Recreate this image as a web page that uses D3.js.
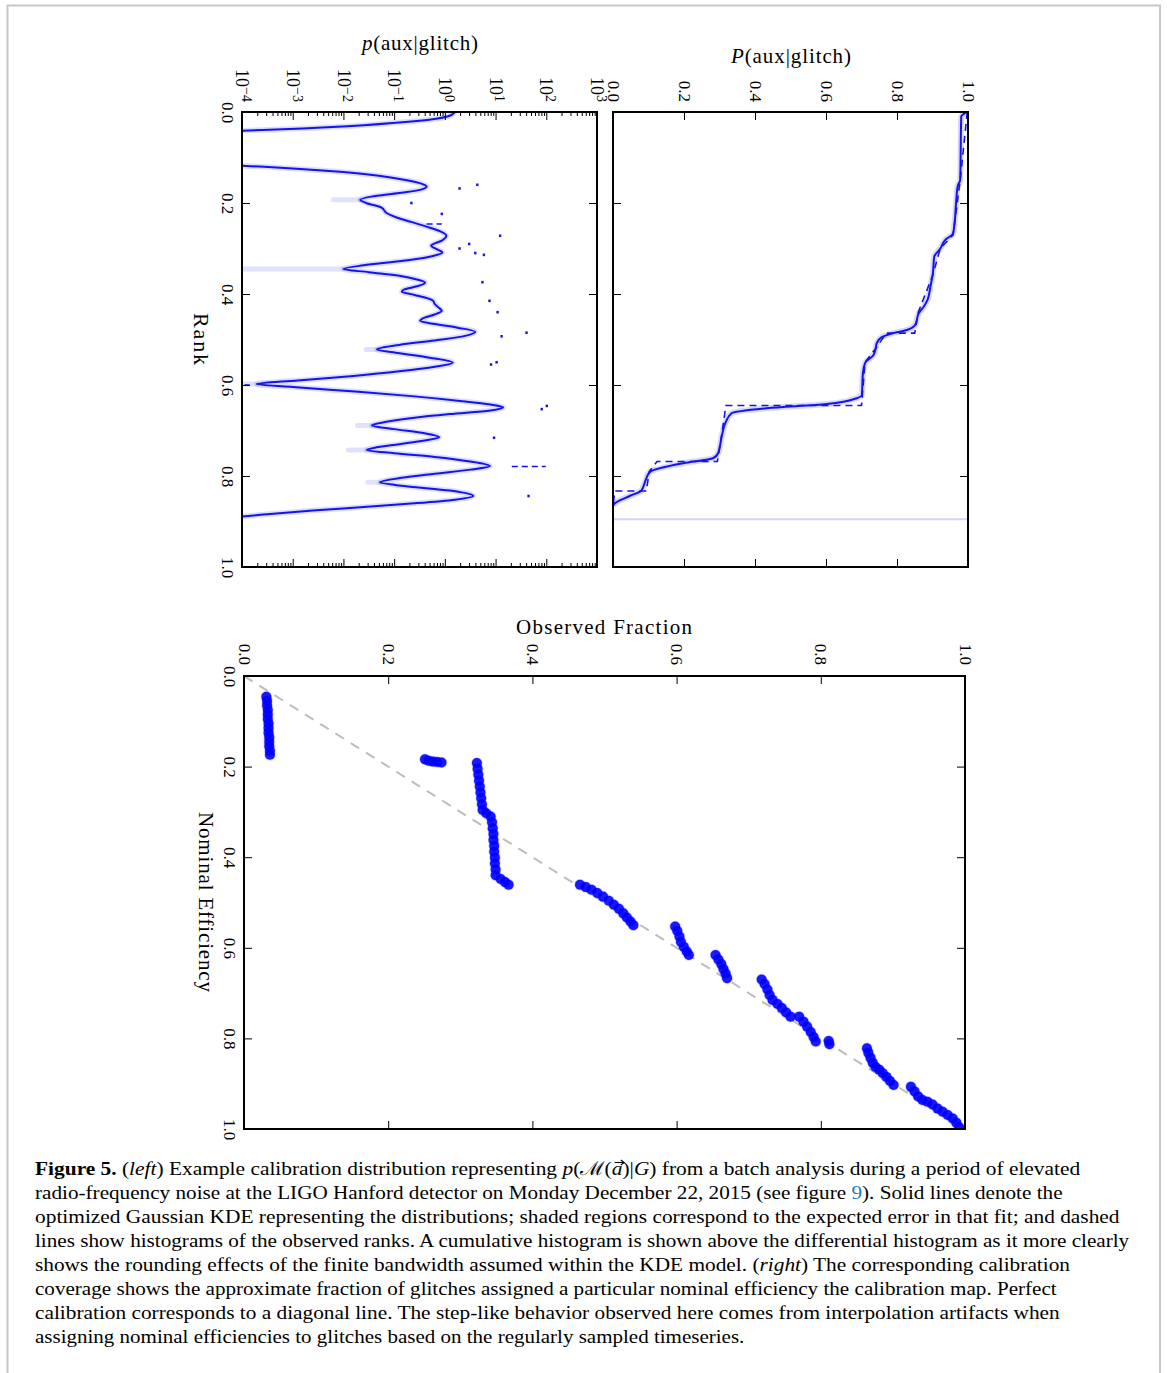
<!DOCTYPE html>
<html>
<head>
<meta charset="utf-8">
<script src="https://cdn.jsdelivr.net/npm/d3@7"></script>
<style>
  body { margin: 0; background: #fff; }
  text { font-family: "Liberation Serif", "DejaVu Serif", serif; fill: #000; }
</style>
</head>
<body>
<script>
// ---------- data ----------

// left panel: KDE of p(aux|glitch) along rank, values kept as log10(p)
var kdeRank = [0.000, 0.010, 0.020, 0.029, 0.036, 0.041, 0.046, 0.110, 0.118, 0.124, 0.132, 0.140, 0.150, 0.158, 0.164,
  0.170, 0.178, 0.186, 0.193, 0.200, 0.210, 0.222, 0.232, 0.242, 0.252, 0.262, 0.272, 0.282, 0.294, 0.302, 0.309,
  0.318, 0.328, 0.337, 0.345, 0.352, 0.360, 0.368, 0.375, 0.383, 0.390, 0.395, 0.402, 0.409, 0.415, 0.422, 0.430,
  0.437, 0.445, 0.452, 0.459, 0.466, 0.474, 0.483, 0.492, 0.502, 0.512, 0.522, 0.530, 0.540, 0.551, 0.560, 0.570,
  0.580, 0.590, 0.598, 0.606, 0.615, 0.625, 0.635, 0.643, 0.649, 0.656, 0.664, 0.672, 0.681, 0.689, 0.697, 0.706,
  0.715, 0.722, 0.730, 0.737, 0.743, 0.750, 0.758, 0.768, 0.778, 0.786, 0.795, 0.804, 0.814, 0.822, 0.832, 0.844,
  0.852, 0.860, 0.868, 0.876, 0.884, 0.889, 0.895];
var kdeLogP = [0.20, 0.05, -0.55, -1.60, -2.80, -4.00, -5.20, -5.20, -4.00, -3.00, -2.00, -1.30, -0.75, -0.45, -0.36,
  -0.45, -0.90, -1.45, -1.67, -1.55, -1.25, -1.15, -0.95, -0.65, -0.36, -0.10, 0.03, -0.05, -0.27, -0.15, -0.05,
  -0.30, -0.90, -1.60, -2.00, -1.50, -0.90, -0.55, -0.39, -0.55, -0.80, -0.85, -0.60, -0.35, -0.23, -0.20, -0.12,
  -0.06, -0.20, -0.40, -0.49, -0.20, 0.25, 0.60, 0.40, -0.20, -0.90, -1.34, -0.90, -0.30, 0.155, -0.20, -0.90,
  -1.80, -2.90, -3.71, -2.80, -1.70, -0.60, 0.30, 0.90, 1.15, 0.90, 0.10, -0.60, -1.15, -1.44, -1.00, -0.40,
  -0.11, -0.40, -0.90, -1.35, -1.54, -1.00, -0.20, 0.50, 0.89, 0.50, -0.20, -0.85, -1.28, -0.80, 0.10, 0.56,
  0.20, -0.60, -1.60, -2.60, -3.50, -4.00, -5.00];

// where the shaded error band pokes out beyond the dips
var dipRank = [0.193, 0.345, 0.522, 0.598, 0.689, 0.743, 0.814];
var dipCurveLogP = [-1.67, -2.00, -1.34, -3.71, -1.44, -1.54, -1.28];
var dipBandLogP = [-2.20, -4.60, -1.55, -4.60, -1.72, -1.90, -1.52];

// differential histogram (dashed) – only the short pieces that stay on scale
var histRank = [0.160, 0.168, 0.200, 0.224, 0.272, 0.290, 0.300, 0.310, 0.314, 0.374, 0.415, 0.440, 0.485, 0.493,
  0.550, 0.555, 0.646, 0.653, 0.716, 0.844];
var histLogP = [0.64, 0.29, -0.66, -0.06, 1.09, 0.48, 0.29, 0.60, 0.77, 0.74, 0.88, 1.04, 1.61, 1.12,
  1.02, 0.91, 2.01, 1.91, 0.97, 1.65];
var histSegRank = [0.246, 0.600, 0.779];
var histSegLo = [-0.36, -3.95, 1.32];
var histSegHi = [-0.06, -3.85, 1.99];

// right panel: cumulative P(aux|glitch)
var cumRank = [0.000, 0.010, 0.149, 0.163, 0.193, 0.245, 0.267, 0.281, 0.300, 0.318, 0.355, 0.384, 0.413, 0.426,
  0.443, 0.468, 0.479, 0.486, 0.495, 0.508, 0.523, 0.534, 0.552, 0.574, 0.622, 0.629, 0.642, 0.651, 0.662, 0.681,
  0.714, 0.750, 0.761, 0.772, 0.791, 0.809, 0.832, 0.844, 0.860, 0.866];
var cumP = [0.997, 0.981, 0.978, 0.971, 0.967, 0.962, 0.958, 0.936, 0.922, 0.905, 0.901, 0.894, 0.886, 0.877,
  0.861, 0.851, 0.828, 0.790, 0.757, 0.743, 0.739, 0.734, 0.710, 0.704, 0.701, 0.687, 0.602, 0.433, 0.334, 0.318,
  0.306, 0.296, 0.282, 0.198, 0.104, 0.092, 0.080, 0.047, 0.005, 0.000];
var cumHistRank = [0.000, 0.150, 0.270, 0.300, 0.360, 0.440, 0.486, 0.486, 0.520, 0.550, 0.645, 0.645, 0.700, 0.768,
  0.768, 0.790, 0.833, 0.833, 0.866];
var cumHistP = [0.998, 0.978, 0.958, 0.922, 0.900, 0.860, 0.850, 0.770, 0.740, 0.710, 0.700, 0.318, 0.308, 0.294,
  0.124, 0.102, 0.094, 0.005, 0.000];
var cumBandRank = 0.895;

// bottom panel: calibration coverage
var obsFrac = [0.031, 0.032, 0.032, 0.033, 0.033, 0.033, 0.034, 0.034, 0.034, 0.035, 0.035, 0.035, 0.036, 0.036,
  0.251, 0.256, 0.262, 0.268, 0.274,
  0.323, 0.324, 0.325, 0.326, 0.327, 0.328, 0.329, 0.330, 0.331, 0.336, 0.342, 0.344, 0.345, 0.346, 0.346, 0.347,
  0.347, 0.348, 0.348, 0.349, 0.349, 0.356, 0.362, 0.367,
  0.466, 0.474, 0.482, 0.490, 0.498, 0.506, 0.513, 0.520, 0.526, 0.531, 0.536, 0.540,
  0.598, 0.601, 0.604, 0.606, 0.610, 0.614, 0.617,
  0.654, 0.658, 0.662, 0.665, 0.668, 0.670,
  0.718, 0.722, 0.726, 0.729, 0.733, 0.740, 0.746, 0.752, 0.758,
  0.770, 0.776, 0.781, 0.786, 0.790, 0.793,
  0.811, 0.812,
  0.864, 0.866, 0.869, 0.872, 0.876, 0.881, 0.886, 0.891, 0.896, 0.901,
  0.925, 0.930, 0.935, 0.941, 0.948, 0.955, 0.962, 0.969, 0.976, 0.983, 0.988, 0.992];
var nomEff = [0.046, 0.055, 0.065, 0.075, 0.085, 0.095, 0.105, 0.115, 0.125, 0.135, 0.145, 0.155, 0.165, 0.174,
  0.184, 0.187, 0.189, 0.190, 0.191,
  0.192, 0.205, 0.218, 0.231, 0.244, 0.257, 0.270, 0.283, 0.296, 0.303, 0.310, 0.323, 0.336, 0.349, 0.362, 0.375,
  0.388, 0.401, 0.414, 0.427, 0.440, 0.448, 0.455, 0.461,
  0.461, 0.466, 0.472, 0.479, 0.487, 0.496, 0.505, 0.514, 0.524, 0.533, 0.542, 0.550,
  0.553, 0.563, 0.575, 0.587, 0.598, 0.608, 0.616,
  0.616, 0.626, 0.636, 0.647, 0.657, 0.667,
  0.670, 0.680, 0.692, 0.704, 0.715, 0.724, 0.733, 0.743, 0.752,
  0.752, 0.763, 0.774, 0.786, 0.797, 0.807,
  0.806, 0.813,
  0.822, 0.832, 0.843, 0.854, 0.863, 0.869, 0.877, 0.885, 0.894, 0.903,
  0.907, 0.917, 0.928, 0.936, 0.940, 0.946, 0.955, 0.962, 0.969, 0.977, 0.986, 0.996];

var linearTicks = [0, 0.2, 0.4, 0.6, 0.8, 1.0];

// caption, one entry per printed line: [text, style]
var captionLines = [
  [["Figure 5.", "b"], [" (", ""], ["left", "i"], [") Example calibration distribution representing ", ""], ["p", "i"],
   ["(\u2133(", ""], ["a", "vec"], [")|", ""], ["G", "i"], [") from a batch analysis during a period of elevated", ""]],
  [["radio-frequency noise at the LIGO Hanford detector on Monday December 22, 2015 (see figure ", ""], ["9", "link"],
   ["). Solid lines denote the", ""]],
  [["optimized Gaussian KDE representing the distributions; shaded regions correspond to the expected error in that fit; and dashed", ""]],
  [["lines show histograms of the observed ranks. A cumulative histogram is shown above the differential histogram as it more clearly", ""]],
  [["shows the rounding effects of the finite bandwidth assumed within the KDE model. (", ""], ["right", "i"],
   [") The corresponding calibration", ""]],
  [["coverage shows the approximate fraction of glitches assigned a particular nominal efficiency the calibration map. Perfect", ""]],
  [["calibration corresponds to a diagonal line. The step-like behavior observed here comes from interpolation artifacts when", ""]],
  [["assigning nominal efficiencies to glitches based on the regularly sampled timeseries.", ""]]
];
var captionEnds = [1081, 1063, 1120, 1130, 1071, 1057, 1060, 745];

// ---------- drawing ----------
var blue = "#1414e6";

var svg = d3.select("body").append("svg")
    .attr("width", 1167)
    .attr("height", 1373);

// page frame
svg.append("path")
    .attr("d", "M7.5,1373V5.5H1160V1373")
    .attr("fill", "none")
    .attr("stroke", "#c8c8c8")
    .attr("stroke-width", 2);

var rankY = d3.scaleLinear().domain([0, 1]).range([112, 567]),
    pX = d3.scaleLog().domain([1e-4, 1e3]).range([242, 597]),
    cumX = d3.scaleLinear().domain([0, 1]).range([613, 968]),
    obsX = d3.scaleLinear().domain([0, 1]).range([244, 965]),
    nomY = d3.scaleLinear().domain([0, 1]).range([676, 1129]);

function isDecade(d) { return Math.abs(Math.log10(d) - Math.round(Math.log10(d))) < 1e-6; }

function cleanAxis(g) {
  g.attr("font-family", null).attr("font-size", 17);
  g.select(".domain").remove();
  g.selectAll(".tick line").attr("stroke", "#000").attr("stroke-width", 1);
}

// labels that sit above the box, read top to bottom
function topLabels(g, gap) {
  g.selectAll(".tick text")
      .attr("transform", "rotate(90)")
      .attr("x", -gap).attr("y", 0)
      .attr("dy", "0.35em")
      .attr("text-anchor", "end");
}
// labels left of the box, rotated, centred on tick
function leftLabels(g, off) {
  g.selectAll(".tick text")
      .attr("transform", "translate(" + (-off) + ",0) rotate(90)")
      .attr("x", 0).attr("y", 0)
      .attr("dy", "0.35em")
      .attr("text-anchor", "middle");
}

function clip(id, x0, y0, x1, y1) {
  svg.append("clipPath").attr("id", id)
    .append("rect").attr("x", x0).attr("y", y0).attr("width", x1 - x0).attr("height", y1 - y0);
}

// ===== left panel =====
clip("clipL", 242, 112, 597, 567);
var left = svg.append("g").attr("clip-path", "url(#clipL)");

var kde = kdeRank.map(function(r, i) { return {r: r, p: Math.pow(10, kdeLogP[i])}; });
var kdeLine = d3.line()
    .curve(d3.curveMonotoneY)
    .x(function(d) { return pX(d.p); })
    .y(function(d) { return rankY(d.r); });

// shaded band
left.append("path")
    .attr("d", kdeLine(kde))
    .attr("fill", "none")
    .attr("stroke", "rgba(60,60,255,0.18)")
    .attr("stroke-width", 5.5);
left.selectAll(".dip")
    .data(dipRank)
    .enter().append("line")
      .attr("class", "dip")
      .attr("x1", function(d, i) { return pX(Math.pow(10, dipCurveLogP[i])); })
      .attr("x2", function(d, i) { return pX(Math.pow(10, dipBandLogP[i])); })
      .attr("y1", function(d) { return rankY(d); })
      .attr("y2", function(d) { return rankY(d); })
      .attr("stroke", "rgba(60,60,255,0.16)")
      .attr("stroke-width", 5)
      .attr("stroke-linecap", "round");

left.append("path")
    .attr("d", kdeLine(kde))
    .attr("fill", "none")
    .attr("stroke", blue)
    .attr("stroke-width", 2);

// histogram fragments
left.selectAll(".hdot")
    .data(histRank)
    .enter().append("rect")
      .attr("class", "hdot")
      .attr("x", function(d, i) { return pX(Math.pow(10, histLogP[i])) - 1.2; })
      .attr("y", function(d) { return rankY(d) - 1.3; })
      .attr("width", 2.4)
      .attr("height", 2.6)
      .attr("fill", blue);
left.selectAll(".hseg")
    .data(histSegRank)
    .enter().append("line")
      .attr("class", "hseg")
      .attr("x1", function(d, i) { return pX(Math.pow(10, histSegLo[i])); })
      .attr("x2", function(d, i) { return pX(Math.pow(10, histSegHi[i])); })
      .attr("y1", function(d) { return rankY(d); })
      .attr("y2", function(d) { return rankY(d); })
      .attr("stroke", blue)
      .attr("stroke-width", 1.6)
      .attr("stroke-dasharray", "6,4");

svg.append("g")
    .attr("transform", "translate(0,112)")
    .call(d3.axisTop(pX).tickSizeInner(-8).tickSizeOuter(0)
      .tickFormat(function(d) { return isDecade(d) ? "10" : ""; }))
    .call(cleanAxis)
    .call(function(g) {
      g.selectAll(".tick line").attr("y2", function(d) { return isDecade(d) ? 8 : 4; });
      topLabels(g, 10);
      g.selectAll(".tick text").attr("font-size", 18);
      g.selectAll(".tick text").filter(function(d) { return isDecade(d); })
        .append("tspan")
          .attr("dy", "-0.4em")
          .attr("font-size", 14)
          .text(function(d) { var e = Math.round(Math.log10(d)); return e < 0 ? "\u2212" + (-e) : "" + e; });
    });
svg.append("g")
    .attr("transform", "translate(0,567)")
    .call(d3.axisBottom(pX).tickSizeInner(-8).tickSizeOuter(0).tickFormat(""))
    .call(cleanAxis)
    .call(function(g) {
      g.selectAll(".tick line").attr("y2", function(d) { return isDecade(d) ? -8 : -4; });
    });
svg.append("g")
    .attr("transform", "translate(242,0)")
    .call(d3.axisLeft(rankY).tickValues(linearTicks).tickSizeInner(-8).tickSizeOuter(0).tickFormat(d3.format(".1f")))
    .call(cleanAxis)
    .call(function(g) { leftLabels(g, 14); });
svg.append("g")
    .attr("transform", "translate(597,0)")
    .call(d3.axisRight(rankY).tickValues(linearTicks).tickSizeInner(-8).tickSizeOuter(0).tickFormat(""))
    .call(cleanAxis);

svg.append("rect")
    .attr("x", 242).attr("y", 112).attr("width", 355).attr("height", 455)
    .attr("fill", "none").attr("stroke", "#000").attr("stroke-width", 2);

var lt = svg.append("text").attr("x", 420).attr("y", 50)
    .attr("text-anchor", "middle").attr("font-size", 21).attr("textLength", 116);
lt.append("tspan").attr("font-style", "italic").text("p");
lt.append("tspan").text("(aux|glitch)");

svg.append("text")
    .attr("transform", "translate(202,339) rotate(90)")
    .attr("dy", "0.35em")
    .attr("text-anchor", "middle")
    .attr("font-size", 22)
    .attr("textLength", 52)
    .text("Rank");

// ===== right panel =====
clip("clipR", 613, 112, 968, 567);
var right = svg.append("g").attr("clip-path", "url(#clipR)");

var cum = cumRank.map(function(r, i) { return {r: r, P: cumP[i]}; });
var cumLine = d3.line()
    .curve(d3.curveMonotoneY)
    .x(function(d) { return cumX(d.P); })
    .y(function(d) { return rankY(d.r); });

right.append("line")
    .attr("x1", cumX(0)).attr("x2", cumX(1))
    .attr("y1", rankY(cumBandRank)).attr("y2", rankY(cumBandRank))
    .attr("stroke", "rgba(60,60,255,0.22)")
    .attr("stroke-width", 2);
right.append("path")
    .attr("d", cumLine(cum))
    .attr("fill", "none")
    .attr("stroke", "rgba(60,60,255,0.2)")
    .attr("stroke-width", 6);
right.append("path")
    .attr("d", d3.line()
      .x(function(d, i) { return cumX(cumHistP[i]); })
      .y(function(d) { return rankY(d); })(cumHistRank))
    .attr("fill", "none")
    .attr("stroke", blue)
    .attr("stroke-width", 1.6)
    .attr("stroke-dasharray", "7,5");
right.append("path")
    .attr("d", cumLine(cum))
    .attr("fill", "none")
    .attr("stroke", blue)
    .attr("stroke-width", 2);

svg.append("g")
    .attr("transform", "translate(0,112)")
    .call(d3.axisTop(cumX).tickValues(linearTicks).tickSizeInner(-8).tickSizeOuter(0).tickFormat(d3.format(".1f")))
    .call(cleanAxis)
    .call(function(g) { topLabels(g, 10); });
svg.append("g")
    .attr("transform", "translate(0,567)")
    .call(d3.axisBottom(cumX).tickValues(linearTicks).tickSizeInner(-8).tickSizeOuter(0).tickFormat(""))
    .call(cleanAxis);
svg.append("g")
    .attr("transform", "translate(613,0)")
    .call(d3.axisLeft(rankY).tickValues(linearTicks).tickSizeInner(-8).tickSizeOuter(0).tickFormat(""))
    .call(cleanAxis);
svg.append("g")
    .attr("transform", "translate(968,0)")
    .call(d3.axisRight(rankY).tickValues(linearTicks).tickSizeInner(-8).tickSizeOuter(0).tickFormat(""))
    .call(cleanAxis);

svg.append("rect")
    .attr("x", 613).attr("y", 112).attr("width", 355).attr("height", 455)
    .attr("fill", "none").attr("stroke", "#000").attr("stroke-width", 2);

var rt = svg.append("text").attr("x", 791).attr("y", 63)
    .attr("text-anchor", "middle").attr("font-size", 21).attr("textLength", 120);
rt.append("tspan").attr("font-style", "italic").text("P");
rt.append("tspan").text("(aux|glitch)");

// ===== bottom panel =====
clip("clipB", 244, 676, 965, 1129);
var bottom = svg.append("g").attr("clip-path", "url(#clipB)");

bottom.append("line")
    .attr("x1", obsX(0)).attr("y1", nomY(0))
    .attr("x2", obsX(1)).attr("y2", nomY(1))
    .attr("stroke", "#bdbdbd")
    .attr("stroke-width", 2)
    .attr("stroke-dasharray", "10,8");

bottom.selectAll(".pt")
    .data(obsFrac)
    .enter().append("circle")
      .attr("class", "pt")
      .attr("cx", function(d) { return obsX(d); })
      .attr("cy", function(d, i) { return nomY(nomEff[i]); })
      .attr("r", 5)
      .attr("fill", "#0000ff")
      .attr("fill-opacity", 0.9)
      .attr("stroke", "#0000ff")
      .attr("stroke-opacity", 0.2)
      .attr("stroke-width", 1.5);

svg.append("g")
    .attr("transform", "translate(0,676)")
    .call(d3.axisTop(obsX).tickValues(linearTicks).tickSizeInner(-8).tickSizeOuter(0).tickFormat(d3.format(".1f")))
    .call(cleanAxis)
    .call(function(g) { topLabels(g, 11); });
svg.append("g")
    .attr("transform", "translate(0,1129)")
    .call(d3.axisBottom(obsX).tickValues(linearTicks).tickSizeInner(-8).tickSizeOuter(0).tickFormat(""))
    .call(cleanAxis);
svg.append("g")
    .attr("transform", "translate(244,0)")
    .call(d3.axisLeft(nomY).tickValues(linearTicks).tickSizeInner(-8).tickSizeOuter(0).tickFormat(d3.format(".1f")))
    .call(cleanAxis)
    .call(function(g) { leftLabels(g, 14); });
svg.append("g")
    .attr("transform", "translate(965,0)")
    .call(d3.axisRight(nomY).tickValues(linearTicks).tickSizeInner(-8).tickSizeOuter(0).tickFormat(""))
    .call(cleanAxis);

svg.append("rect")
    .attr("x", 244).attr("y", 676).attr("width", 721).attr("height", 453)
    .attr("fill", "none").attr("stroke", "#000").attr("stroke-width", 2);

svg.append("text")
    .attr("x", 604).attr("y", 634)
    .attr("text-anchor", "middle")
    .attr("font-size", 21)
    .attr("textLength", 176)
    .text("Observed Fraction");
svg.append("text")
    .attr("transform", "translate(206,902) rotate(90)")
    .attr("dy", "0.35em")
    .attr("text-anchor", "middle")
    .attr("font-size", 21)
    .attr("textLength", 180)
    .text("Nominal Efficiency");

// ===== caption =====
var cap = svg.append("g");
captionLines.forEach(function(parts, i) {
  var t = cap.append("text")
      .attr("x", 0).attr("y", 0)
      .attr("font-size", 19);
  var nChars = 0, vecAt = -1;
  parts.forEach(function(p) {
    var s = t.append("tspan").text(p[0]);
    if (p[1] === "b") s.attr("font-weight", "bold");
    if (p[1] === "i" || p[1] === "vec") s.attr("font-style", "italic");
    if (p[1] === "link") s.style("fill", "#1a7fc1");
    if (p[1] === "vec") vecAt = nChars;
    nChars += p[0].length;
  });
  var w = t.node().getComputedTextLength();
  var sx = (captionEnds[i] - 35) / w;
  var tr = "translate(35," + (1175 + 24 * i) + ") scale(" + sx + ",1)";
  t.attr("transform", tr);
  if (vecAt >= 0) {
    // little vector arrow over the a, drawn as a path
    var ext = t.node().getExtentOfChar(vecAt);
    var x0 = ext.x + 2.5, x1 = ext.x + ext.width + 1.5, ya = -12.5;
    cap.append("path")
        .attr("transform", tr)
        .attr("d", "M" + x0 + "," + ya + "H" + x1 + "M" + (x1 - 3) + "," + (ya - 2.5) + "L" + x1 + "," + ya + "L" + (x1 - 3) + "," + (ya + 2.5))
        .attr("fill", "none")
        .attr("stroke", "#000")
        .attr("stroke-width", 1);
  }
});
</script>
</body>
</html>
